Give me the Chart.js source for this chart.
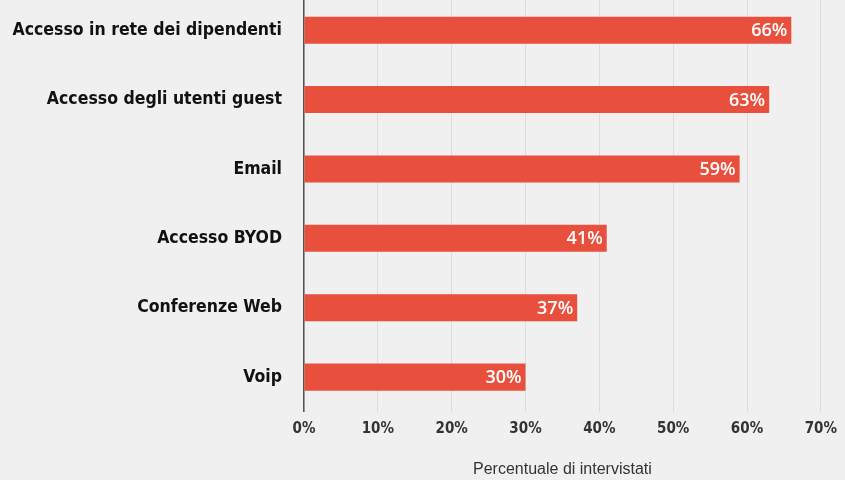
<!DOCTYPE html>
<html>
<head>
<meta charset="utf-8">
<script src="https://cdn.jsdelivr.net/npm/chart.js@4.4.1/dist/chart.umd.min.js"></script>
<style>
  html, body { margin: 0; padding: 0; background: #f0f0f0; overflow: hidden; }
  #wrap { width: 845px; height: 516px; margin-top: -37px; }
</style>
</head>
<body>
<div id="wrap"><canvas id="chart" width="845" height="516"></canvas></div>
<script>
const categories = ['Accesso in rete dei dipendenti', 'Accesso degli utenti guest', 'Email', 'Accesso BYOD', 'Conferenze Web', 'Voip'];
const values = [66, 63, 59, 41, 37, 30];
const axisTitle = 'Percentuale di intervistati';

// white % labels at the end of each bar
const valueLabels = {
    id: 'valueLabels',
    afterDatasetsDraw(chart) {
        const ctx = chart.ctx;
        const meta = chart.getDatasetMeta(0);
        ctx.save();
        ctx.fillStyle = '#ffffff';
        ctx.font = '600 18px "Open Sans", sans-serif';
        ctx.textAlign = 'right';
        ctx.textBaseline = 'middle';
        meta.data.forEach(function (bar, i) {
            ctx.fillText(values[i] + '%', bar.x - 4, bar.y + 1);
        });
        ctx.restore();
    }
};

new Chart(document.getElementById('chart'), {
    type: 'bar',
    data: {
        labels: categories,
        datasets: [{
            data: values,
            backgroundColor: '#e8503d',
            barPercentage: 0.39,
            categoryPercentage: 1
        }]
    },
    options: {
        indexAxis: 'y',
        responsive: false,
        animation: false,
        layout: { padding: { top: 0, right: 2 } },
        plugins: {
            legend: { display: false },
            tooltip: { enabled: false }
        },
        scales: {
            x: {
                min: 0,
                max: 70,
                ticks: {
                    stepSize: 10,
                    padding: 8,
                    color: '#333',
                    font: { family: '"DejaVu Sans Condensed", sans-serif', size: 15, weight: 'bold' },
                    callback: function (v) { return v + '%'; }
                },
                grid: { color: '#dcdcdc', drawTicks: false },
                border: { display: false },
                title: {
                    display: true,
                    text: axisTitle,
                    color: '#333',
                    font: { family: '"Liberation Sans", Arial, sans-serif', size: 16 },
                    padding: { top: 14, bottom: 0 }
                }
            },
            y: {
                afterFit: function (scale) { scale.width = 304; },
                ticks: {
                    padding: 22,
                    color: '#111',
                    font: { family: '"DejaVu Sans Condensed", sans-serif', size: 17.5, weight: 'bold' }
                },
                grid: { display: false, drawTicks: false },
                border: { color: '#555', width: 1.5 }
            }
        }
    },
    plugins: [valueLabels]
});
</script>
</body>
</html>
